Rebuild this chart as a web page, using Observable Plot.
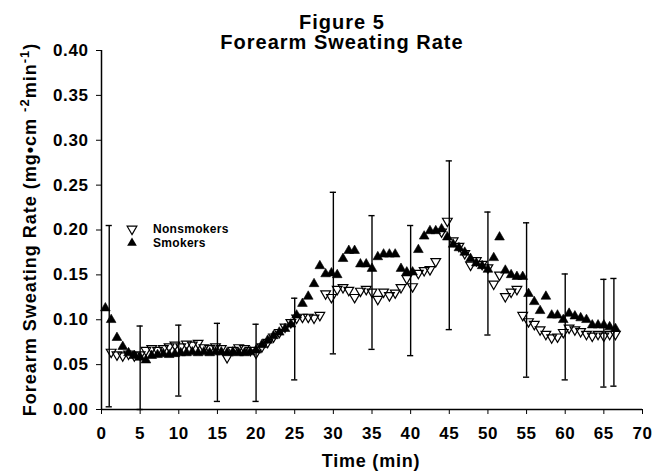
<!DOCTYPE html>
<html><head><meta charset="utf-8">
<script src="https://cdn.jsdelivr.net/npm/d3@7"></script>
<script src="https://cdn.jsdelivr.net/npm/@observablehq/plot@0.6"></script>
<style>body{margin:0;background:#fff} svg{display:block}</style>
</head><body><div id="chart"></div>
<script>
const titleLines = ["Figure 5", "Forearm Sweating Rate"];
const xLabel = "Time (min)";
const seriesNames = ["Nonsmokers", "Smokers"];
const xTicks = [0, 5, 10, 15, 20, 25, 30, 35, 40, 45, 50, 55, 60, 65, 70];
const yTicks = [0, 0.05, 0.10, 0.15, 0.20, 0.25, 0.30, 0.35, 0.40];

const times = [0.5, 1.25, 2, 2.75, 3.5, 4.25, 5, 5.75, 6.5, 7.25, 8, 8.75, 9.5, 10.25, 11, 11.75, 12.5, 13.25, 14, 14.75,
  15.5, 16.25, 17, 17.75, 18.5, 19.25, 20, 20.75, 21.5, 22.25, 23, 23.75, 24.5, 25.25, 26, 26.75, 27.5, 28.25, 29, 29.75,
  30.5, 31.25, 32, 32.75, 33.5, 34.25, 35, 35.75, 36.5, 37.25, 38, 38.75, 39.5, 40.25, 41, 41.75, 42.5, 43.25, 44, 44.75,
  45.5, 46.25, 47, 47.75, 48.5, 49.25, 50, 50.75, 51.5, 52.25, 53, 53.75, 54.5, 55.25, 56, 56.75, 57.5, 58.25, 59, 59.75,
  60.5, 61.25, 62, 62.75, 63.5, 64.25, 65, 65.75, 66.5];

const nonsmokers = [null, 0.064, 0.061, 0.060, 0.062, 0.060, 0.061, 0.066, 0.068, 0.066, 0.068, 0.070, 0.072, 0.070, 0.073, 0.072, 0.074, 0.069, 0.068, 0.070,
  0.068, 0.058, 0.066, 0.069, 0.068, 0.066, 0.063, 0.070, 0.075, 0.081, 0.086, 0.092, 0.097, 0.102, 0.103, 0.103, 0.102, 0.105, 0.129, 0.125,
  0.134, 0.136, 0.133, 0.125, 0.132, 0.134, 0.131, 0.123, 0.131, 0.127, 0.130, 0.136, 0.146, 0.137, 0.152, 0.155, 0.156, 0.165, 0.198, 0.210,
  0.188, 0.182, 0.174, 0.161, 0.166, 0.162, 0.158, 0.140, 0.150, 0.126, 0.131, 0.134, 0.105, 0.098, 0.095, 0.089, 0.084, 0.080, 0.081, 0.086,
  0.091, 0.089, 0.087, 0.084, 0.082, 0.084, 0.082, 0.084, 0.084];

const smokers = [0.113, 0.100, 0.080, 0.070, 0.063, 0.060, 0.058, 0.055, 0.060, 0.061, 0.062, 0.061, 0.062, 0.063, 0.063, 0.064, 0.063, 0.064, 0.063, 0.064,
  0.064, 0.063, 0.064, 0.063, 0.063, 0.064, 0.066, 0.072, 0.077, 0.082, 0.086, 0.090, 0.095, 0.105, 0.118, 0.126, 0.140, 0.160, 0.151, 0.152,
  0.150, 0.168, 0.177, 0.177, 0.162, 0.162, 0.157, 0.170, 0.173, 0.173, 0.173, 0.157, 0.153, 0.153, 0.178, 0.193, 0.199, 0.199, 0.201, 0.192,
  0.184, 0.180, 0.175, 0.168, 0.163, 0.160, 0.156, 0.169, 0.192, 0.155, 0.150, 0.148, 0.148, 0.129, 0.120, 0.110, 0.126, 0.105, 0.105, 0.100,
  0.107, 0.104, 0.102, 0.100, 0.094, 0.094, 0.094, 0.092, 0.090];

const barTimes = [1, 5, 10, 15, 20, 25, 30, 35, 40, 45, 50, 55, 60, 65, 66.3];
const barLow  = [0.003, 0.000, 0.015, 0.009, 0.009, 0.033, 0.062, 0.067, 0.060, 0.089, 0.083, 0.036, 0.033, 0.025, 0.026];
const barHigh = [0.205, 0.093, 0.094, 0.096, 0.095, 0.124, 0.242, 0.216, 0.205, 0.277, 0.220, 0.208, 0.151, 0.145, 0.146];

const nsData = times.map((t, i) => ({t, v: nonsmokers[i]})).filter(d => d.v != null);
const smData = times.map((t, i) => ({t, v: smokers[i]}));
const bars = barTimes.map((t, i) => ({t, lo: barLow[i], hi: barHigh[i]}));

const triDown = {
  draw(context, size) {
    const y = -Math.sqrt(size / (Math.sqrt(3) * 3));
    context.moveTo(0, -y * 2);
    context.lineTo(-Math.sqrt(3) * y, y);
    context.lineTo(Math.sqrt(3) * y, y);
    context.closePath();
  }
};

const capHalf = 0.4;
const R = 3.6;
const FONT = "'Liberation Sans', Arial, sans-serif";

const plot = Plot.plot({
  width: 658, height: 476,
  marginLeft: 101, marginRight: 16, marginTop: 50, marginBottom: 67,
  style: {fontFamily: FONT, fontSize: "17px", fontWeight: "bold", letterSpacing: "0.6px", color: "black", background: "white"},
  x: {domain: [0, 70], ticks: xTicks, tickFormat: d => String(d), label: null, tickSize: 5, tickPadding: 12},
  y: {domain: [0, 0.4], ticks: yTicks, tickFormat: d3.format(".2f"), label: null, tickSize: 5, tickPadding: 8},
  marks: [
    Plot.ruleY([0], {stroke: "black", strokeWidth: 1.5}),
    Plot.ruleX([0], {stroke: "black", strokeWidth: 1.5}),
    Plot.ruleX(bars, {x: "t", y1: "lo", y2: "hi", stroke: "black", strokeWidth: 1.4}),
    Plot.ruleY(bars, {x1: d => d.t - capHalf, x2: d => d.t + capHalf, y: "hi", stroke: "black", strokeWidth: 1.4}),
    Plot.ruleY(bars, {x1: d => d.t - capHalf, x2: d => d.t + capHalf, y: "lo", stroke: "black", strokeWidth: 1.4}),
    Plot.dot(nsData, {x: "t", y: "v", symbol: triDown, r: R, fill: "none", stroke: "black", strokeWidth: 1.2}),
    Plot.dot(smData, {x: "t", y: "v", symbol: "triangle", r: R, fill: "black", stroke: "black", strokeWidth: 0.6})
  ]
});

const svg = d3.select(plot);
function addText(sel, x, y, size, spacing, txt) {
  return sel.append("text").attr("x", x).attr("y", y).attr("text-anchor", "middle")
    .style("font-family", FONT).style("font-weight", "bold").style("font-size", size + "px")
    .style("letter-spacing", spacing + "px").text(txt);
}
// Title
addText(svg, 342, 29, 20, 1, titleLines[0]);
addText(svg, 342, 49, 20, 1, titleLines[1]);
// X label
addText(svg, 371, 467, 18, 0.8, xLabel);
// Y label with superscripts
const yl = svg.append("text").attr("transform", "translate(36,229.5) rotate(-90)").attr("text-anchor", "middle")
  .style("font-family", FONT).style("font-weight", "bold").style("font-size", "18px").style("letter-spacing", "1px");
yl.append("tspan").text("Forearm Sweating Rate (mg\u2022cm ");
yl.append("tspan").attr("dy", -7).style("font-size", "13px").text("-2");
yl.append("tspan").attr("dy", 7).text("min");
yl.append("tspan").attr("dy", -7).style("font-size", "13px").text("-1");
yl.append("tspan").attr("dy", 7).text(")");
// Legend
const lg = svg.append("g");
lg.append("path").attr("transform", "translate(132,229)")
  .attr("d", d3.symbol(triDown, Math.PI * R * R)()).attr("fill", "none").attr("stroke", "black").attr("stroke-width", 1.2);
lg.append("path").attr("transform", "translate(132,243)")
  .attr("d", d3.symbol(d3.symbolTriangle, Math.PI * R * R)()).attr("fill", "black");
lg.append("text").attr("x", 153).attr("y", 229).attr("dy", "0.35em").attr("text-anchor", "start")
  .style("font-family", FONT).style("font-weight", "bold").style("font-size", "12px").style("letter-spacing", "0.3px").text(seriesNames[0]);
lg.append("text").attr("x", 153).attr("y", 243).attr("dy", "0.35em").attr("text-anchor", "start")
  .style("font-family", FONT).style("font-weight", "bold").style("font-size", "12px").style("letter-spacing", "0.3px").text(seriesNames[1]);

document.getElementById("chart").appendChild(plot);
</script>
</body></html>
